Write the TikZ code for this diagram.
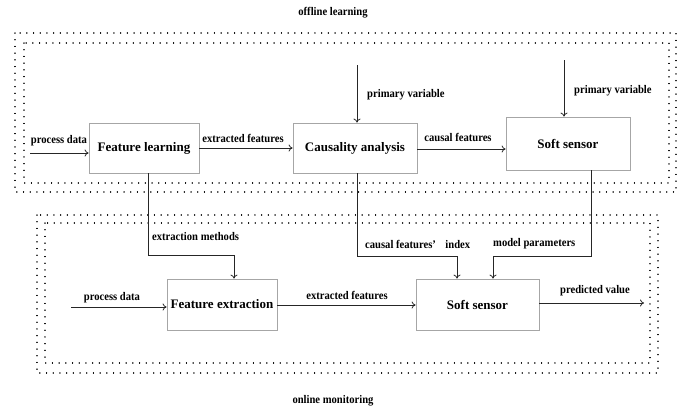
\documentclass[tikz,border=0pt]{standalone}
\usepackage{fontspec}
\setmainfont{Liberation Serif}
\usetikzlibrary{arrows.meta}
\begin{document}
\begin{tikzpicture}[x=1pt,y=-1pt,
  blk/.style={draw=black!35,line width=0.8pt,fill=white,font=\bfseries\fontsize{13}{15}\selectfont,inner sep=0pt},
  arr/.style={draw=black!85,line width=0.8pt,-{To[length=4pt,width=7pt]}},
  lbl/.style={font=\bfseries\fontsize{10.6}{12}\selectfont,inner sep=0pt,yscale=1.1},
  dots/.style={draw=black,line width=1.3pt,dash pattern=on 0.1pt off 6.6pt,line cap=round}]
\useasboundingbox (0,0) rectangle (687,410);
% dotted frames
\draw[dots] (15,33) rectangle (676,192);
\draw[dots] (24,43) rectangle (669,183);
\draw[dots] (37,215) rectangle (658,373);
\draw[dots] (45,223) rectangle (650,363);
% titles
\node[lbl] (t1) at (333,13) {offline learning};
\node[lbl] (t2) at (333,401) {online monitoring};
% blocks
\node[blk,minimum width=110,minimum height=50] (FL) at (144,148) {Feature learning};
\node[blk,minimum width=124,minimum height=50] (CA) at (355,148) {Causality analysis};
\node[blk,minimum width=124,minimum height=53] (SS1) at (568,143.5) {Soft sensor};
\node[blk,minimum width=110,minimum height=51] (FE) at (222,304.5) {Feature extraction};
\node[blk,minimum width=123,minimum height=51] (SS2) at (477.5,304.5) {Soft sensor};
% free ends
\coordinate (pd1) at (30,153);
\coordinate (pv1) at (357,65);
\coordinate (pv2) at (564,60);
\coordinate (pd2) at (71,307);
\coordinate (pv) at (644,303);
% top row
\draw[arr] (pd1) -- (pd1 -| FL.west);
\draw[arr] (FL.east) -- (CA.west);
\draw[arr] ([yshift=-1]CA.east) -- ([yshift=-1]CA.east -| SS1.west);
\draw[arr] (pv1) -- (pv1 |- CA.north);
\draw[arr] (pv2) -- (pv2 |- SS1.north);
% down connectors
\draw[arr] ([xshift=4]FL.south) -- ++(0,82) -| ([xshift=12]FE.north);
\draw[arr] ([xshift=2]CA.south) -- ++(0,83) -| ([xshift=-20.5]SS2.north);
\draw[arr] ([xshift=23]SS1.south) -- ++(0,86) -| ([xshift=15.5]SS2.north);
% bottom row
\draw[arr] (pd2) -- (pd2 -| FE.west);
\draw[arr] ([yshift=-0.5]FE.east) -- ([yshift=-0.5]FE.east -| SS2.west);
\draw[arr] (SS2.east |- pv) -- (pv);
% labels
\node[lbl] (l1) at (59,141) {process data};
\node[lbl] (l2) at (243,138) {extracted features};
\node[lbl] (l3) at (458,137) {causal features};
\node[lbl,anchor=west] (l4) at (367,95) {primary variable};
\node[lbl,anchor=west] (l5) at (574,91) {primary variable};
\node[lbl,anchor=west] (l6) at (152,237) {extraction methods};
\node[lbl,anchor=west] (l7) at (365,244) {causal features’\hspace{0.9em}index};
\node[lbl,anchor=west] (l8) at (493,244) {model parameters};
\node[lbl] (l9) at (112,298) {process data};
\node[lbl] (l10) at (347,295) {extracted features};
\node[lbl] (l11) at (595,291) {predicted value};
\end{tikzpicture}
\end{document}
